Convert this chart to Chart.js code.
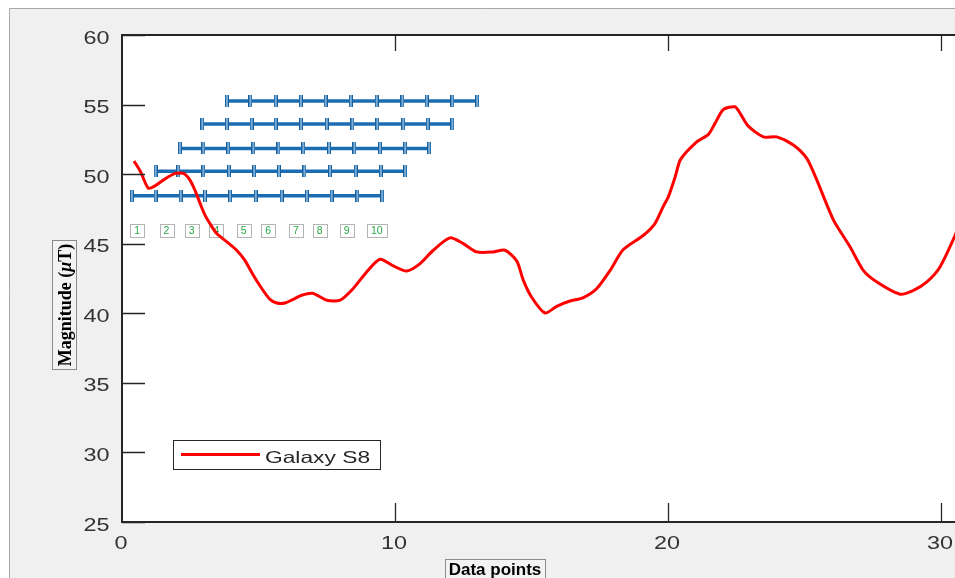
<!DOCTYPE html>
<html>
<head>
<meta charset="utf-8">
<title>Galaxy S8 magnitude</title>
<script src="https://cdn.jsdelivr.net/npm/chart.js@4.4.1/dist/chart.umd.min.js"></script>
<style>
  html, body { margin: 0; padding: 0; background: #ffffff; overflow: hidden; }
  canvas { display: block; }
</style>
</head>
<body>
<canvas id="chart" width="955" height="578"></canvas>
<script>
// Magnetic field magnitude trace (Galaxy S8)
const traceX = [0.44, 0.68, 0.96, 1.21, 1.51, 1.94, 2.25, 2.49, 2.67, 2.86, 3.04, 3.22, 3.47, 3.84, 4.2, 4.5, 4.81, 5.12, 5.42, 5.67, 5.97, 6.27, 6.58, 6.98, 7.5, 7.99, 8.47, 8.96, 9.45, 9.94, 10.43, 10.92, 11.4, 12.01, 12.5, 12.99, 13.6, 14.03, 14.46, 14.7, 15.0, 15.49, 15.92, 16.41, 16.9, 17.39, 17.88, 18.36, 19.1, 19.52, 19.83, 20.01, 20.26, 20.46, 21.05, 21.48, 21.72, 22.03, 22.45, 22.64, 22.94, 23.49, 23.98, 24.59, 25.08, 25.45, 26.06, 26.67, 27.15, 27.65, 28.5, 28.99, 29.48, 29.96, 30.49, 30.7];
const traceY = [50.94, 50.17, 49.0, 49.16, 49.57, 50.05, 50.05, 49.57, 48.85, 47.9, 47.05, 46.45, 45.73, 45.13, 44.53, 43.8, 42.73, 41.78, 41.0, 40.74, 40.74, 41.0, 41.3, 41.44, 40.94, 40.94, 41.78, 42.97, 43.88, 43.4, 43.04, 43.57, 44.53, 45.42, 45.01, 44.41, 44.41, 44.53, 43.75, 42.37, 41.17, 40.02, 40.5, 40.88, 41.13, 41.78, 43.09, 44.58, 45.61, 46.45, 47.7, 48.37, 49.8, 51.06, 52.32, 52.86, 53.65, 54.65, 54.84, 54.37, 53.45, 52.68, 52.68, 52.09, 51.13, 49.57, 46.7, 44.77, 43.09, 42.25, 41.37, 41.65, 42.25, 43.33, 45.49, 46.6];

// Sliding windows: one row per window offset, tick marks at each sample boundary
const windowLevels = [48.45, 50.2, 51.85, 53.6, 55.25];
const windowRow1 = [0.36, 1.23, 2.15, 3.04, 3.96, 4.90, 5.85, 6.77, 7.68, 8.62, 9.53];
const windowRow2 = [1.23, 2.06, 2.98, 3.92, 4.84, 5.75, 6.68, 7.62, 8.56, 9.48, 10.37];
const windowRow3 = [2.12, 2.98, 3.89, 4.81, 5.73, 6.64, 7.58, 8.51, 9.45, 10.37, 11.25];
const windowRow4 = [2.94, 3.84, 4.75, 5.63, 6.56, 7.50, 8.44, 9.35, 10.30, 11.20, 12.10];
const windowRow5 = [3.84, 4.70, 5.63, 6.55, 7.46, 8.38, 9.33, 10.27, 11.16, 12.10, 13.01];
const windowRows = [windowRow1, windowRow2, windowRow3, windowRow4, windowRow5];

// Sample index tags
const tagText = ['1', '2', '3', '4', '5', '6', '7', '8', '9', '10'];
const tagX = [0.56, 1.63, 2.55, 3.46, 4.46, 5.35, 6.37, 7.24, 8.23, 9.33];
const tagY = 45.95;

// Axis ticks
const xTicks = [0, 10, 20, 30];
const yTicks = [25, 30, 35, 40, 45, 50, 55, 60];

const seriesName = 'Galaxy S8';
const xTitle = 'Data points';

const BLUE = '#1a6db3';
const AXIS = '#262626';

// Double tick used as the point marker of each window row
function makeTickMarker() {
  const c = document.createElement('canvas');
  c.width = 4; c.height = 12;
  const g = c.getContext('2d');
  g.fillStyle = '#155f9c';
  g.fillRect(0, 0, 1, 12);
  g.fillRect(3, 0, 1, 12);
  g.fillStyle = '#7aaed8';
  g.fillRect(1, 0, 2, 12);
  return c;
}
const tickMarker = makeTickMarker();

function toPoints(xs, ys) {
  return xs.map((x, i) => ({ x: x, y: Array.isArray(ys) ? ys[i] : ys }));
}

const datasets = [{
  label: seriesName,
  data: toPoints(traceX, traceY),
  showLine: true,
  borderColor: '#ff0000',
  borderWidth: 3,
  pointRadius: 0,
  tension: 0.25
}];
windowRows.forEach((row, i) => {
  datasets.push({
    label: 'window ' + (i + 1),
    data: toPoints(row, windowLevels[i]),
    showLine: true,
    borderColor: BLUE,
    borderWidth: 3.5,
    pointStyle: tickMarker,
    pointRadius: 5,
    tension: 0
  });
});

// Draws wide text by stretching it horizontally around its anchor
function wideText(ctx, text, x, y, sx, align) {
  ctx.save();
  ctx.translate(x, y);
  ctx.scale(sx, 1);
  ctx.textAlign = align;
  ctx.fillText(text, 0, 0);
  ctx.restore();
}

const figureDecor = {
  id: 'figureDecor',
  beforeDraw(chart) {
    const ctx = chart.ctx, a = chart.chartArea;
    ctx.save();
    ctx.fillStyle = '#ffffff';
    ctx.fillRect(0, 0, chart.width, chart.height);
    ctx.fillStyle = '#f0f0f0';
    ctx.fillRect(9, 8, chart.width - 9, chart.height - 8);
    ctx.strokeStyle = '#a8a8a8';
    ctx.lineWidth = 1;
    ctx.beginPath();
    ctx.moveTo(9.5, chart.height); ctx.lineTo(9.5, 8.5); ctx.lineTo(chart.width, 8.5);
    ctx.stroke();
    ctx.fillStyle = '#ffffff';
    ctx.fillRect(a.left, a.top, a.right - a.left, a.bottom - a.top);
    ctx.restore();
  },
  beforeDatasetsDraw(chart) {
    const ctx = chart.ctx, sx = chart.scales.x, sy = chart.scales.y;
    ctx.save();
    ctx.font = '10.5px "Liberation Sans", Arial, sans-serif';
    ctx.textBaseline = 'middle';
    ctx.textAlign = 'center';
    tagText.forEach((t, i) => {
      const px = sx.getPixelForValue(tagX[i]);
      const py = sy.getPixelForValue(tagY);
      const w = Math.round(ctx.measureText(t).width + 8);
      const h = 13;
      const left = Math.round(px - w / 2) + 0.5, top = Math.round(py - h / 2) + 0.5;
      ctx.fillStyle = '#ffffff';
      ctx.fillRect(left, top, w, h);
      ctx.strokeStyle = '#b4b4b4';
      ctx.lineWidth = 1;
      ctx.strokeRect(left, top, w, h);
      ctx.fillStyle = '#27a845';
      ctx.fillText(t, px, py + 0.5);
    });
    ctx.restore();
  },
  afterDraw(chart) {
    const ctx = chart.ctx, a = chart.chartArea, sx = chart.scales.x, sy = chart.scales.y;
    ctx.save();

    // axes box (left, top, bottom)
    ctx.strokeStyle = AXIS;
    ctx.lineWidth = 2;
    ctx.beginPath();
    ctx.moveTo(chart.width, a.top); ctx.lineTo(a.left, a.top);
    ctx.lineTo(a.left, a.bottom); ctx.lineTo(chart.width, a.bottom);
    ctx.stroke();

    // inward tick marks
    ctx.lineWidth = 1.3;
    ctx.beginPath();
    yTicks.forEach(v => {
      const py = Math.round(sy.getPixelForValue(v)) + 0.5;
      ctx.moveTo(a.left, py); ctx.lineTo(a.left + 23, py);
    });
    xTicks.forEach(v => {
      if (v === 0) return;
      const px = Math.round(sx.getPixelForValue(v)) + 0.5;
      ctx.moveTo(px, a.bottom); ctx.lineTo(px, a.bottom - 19);
      ctx.moveTo(px, a.top); ctx.lineTo(px, a.top + 16);
    });
    ctx.stroke();

    // tick labels
    ctx.fillStyle = '#333333';
    ctx.font = '18px "Liberation Sans", Arial, sans-serif';
    ctx.textBaseline = 'alphabetic';
    yTicks.forEach(v => {
      wideText(ctx, String(v), 109.5, sy.getPixelForValue(v) + 8.5, 1.3, 'right');
    });
    xTicks.forEach(v => {
      wideText(ctx, String(v), sx.getPixelForValue(v) - 1, 549, 1.3, 'center');
    });

    // y-axis title in its box
    ctx.fillStyle = '#f3f3f3';
    ctx.fillRect(52.5, 240.5, 24, 129);
    ctx.strokeStyle = '#8c8c8c';
    ctx.lineWidth = 1;
    ctx.strokeRect(52.5, 240.5, 24, 129);
    ctx.save();
    ctx.translate(71, 305);
    ctx.rotate(-Math.PI / 2);
    ctx.fillStyle = '#000000';
    ctx.textBaseline = 'alphabetic';
    ctx.textAlign = 'left';
    const fb = 'bold 18px "Liberation Serif", "Times New Roman", serif';
    const fi = 'italic bold 18px "Liberation Serif", "Times New Roman", serif';
    const parts = [['Magnitude (', fb], ['\u03bc', fi], ['T)', fb]];
    let total = 0;
    parts.forEach(p => { ctx.font = p[1]; total += ctx.measureText(p[0]).width; });
    let cx = -total / 2;
    parts.forEach(p => { ctx.font = p[1]; ctx.fillText(p[0], cx, 0); cx += ctx.measureText(p[0]).width; });
    ctx.restore();

    // x-axis title in its box
    ctx.fillStyle = '#f3f3f3';
    ctx.fillRect(445.5, 559.5, 100, 25);
    ctx.strokeStyle = '#8c8c8c';
    ctx.strokeRect(445.5, 559.5, 100, 25);
    ctx.fillStyle = '#000000';
    ctx.font = 'bold 17px "Liberation Sans", Arial, sans-serif';
    ctx.textAlign = 'center';
    ctx.fillText(xTitle, 495, 575);

    // legend
    ctx.fillStyle = '#ffffff';
    ctx.fillRect(173.5, 440.5, 207, 29);
    ctx.strokeStyle = AXIS;
    ctx.lineWidth = 1;
    ctx.strokeRect(173.5, 440.5, 207, 29);
    ctx.strokeStyle = '#ff0000';
    ctx.lineWidth = 3;
    ctx.beginPath();
    ctx.moveTo(181, 454.5); ctx.lineTo(260, 454.5);
    ctx.stroke();
    ctx.fillStyle = '#262626';
    ctx.font = '16.5px "Liberation Sans", Arial, sans-serif';
    wideText(ctx, seriesName, 265, 463, 1.38, 'left');

    ctx.restore();
  }
};

new Chart(document.getElementById('chart'), {
  type: 'scatter',
  data: { datasets: datasets },
  options: {
    responsive: false,
    devicePixelRatio: 1,
    animation: false,
    layout: { autoPadding: false, padding: { left: 122, top: 35, right: 0, bottom: 56 } },
    scales: {
      x: { type: 'linear', min: 0, max: 30.51, display: false },
      y: { type: 'linear', min: 25, max: 60, display: false }
    },
    plugins: {
      legend: { display: false },
      tooltip: { enabled: false }
    }
  },
  plugins: [figureDecor]
});
</script>
</body>
</html>
